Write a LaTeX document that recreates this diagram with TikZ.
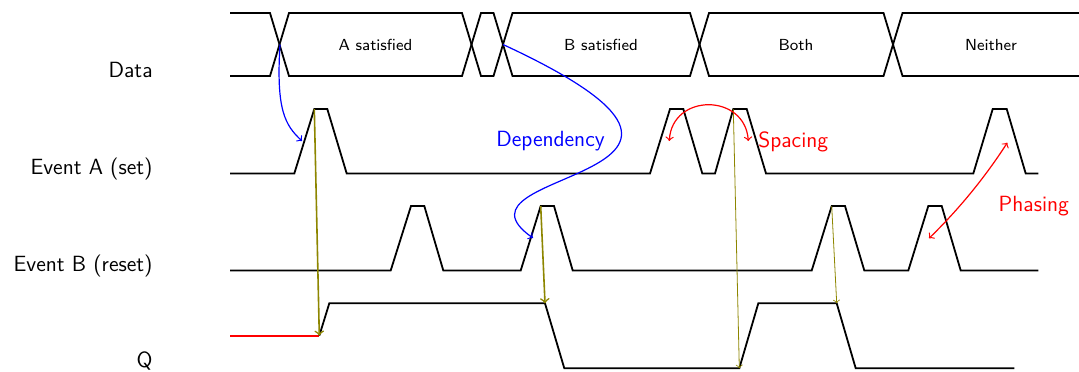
\documentclass[tikz,border=0pt]{standalone}
\usepackage{xcolor}
\begin{document}
\begin{tikzpicture}[x=0.5pt,y=-0.5pt,
  sig/.style={line width=0.9pt,line join=miter},
  lbl/.style={font=\sffamily\fontsize{11}{13}\selectfont,inner sep=0pt,anchor=base east},
  dtxt/.style={font=\sffamily\footnotesize,inner sep=0pt,anchor=base},
  dep/.style={blue,line width=0.6pt},
  rel/.style={red,line width=0.6pt},
  cause/.style={olive,line width=0.8pt,->},
  causethin/.style={olive,line width=0.4pt,->},
  note/.style={font=\sffamily\fontsize{11}{13}\selectfont,inner sep=0pt}]
\useasboundingbox (0,0) rectangle (1079,371);

% labels
\node[lbl] (ldata) at (153,77.3) {Data};
\node[lbl] (lea) at (153,174) {Event A (set)};
\node[lbl] (leb) at (153,271.5) {Event B (reset)};
\node[lbl] (lq) at (153,367) {Q};

% Data bus
\draw[sig] (230,13) -- (270,13) -- (279.5,44.5) -- (270,76) -- (230,76);
\draw[sig] (279.5,44.5) -- (289,13) -- (462,13) -- (471.5,44.5) -- (462,76) -- (289,76) -- cycle;
\draw[sig] (471.5,44.5) -- (481,13) -- (493.5,13) -- (503,44.5) -- (493.5,76) -- (481,76) -- cycle;
\draw[sig] (503,44.5) -- (512.5,13) -- (690,13) -- (699.5,44.5) -- (690,76) -- (512.5,76) -- cycle;
\draw[sig] (699.5,44.5) -- (709,13) -- (883.5,13) -- (893,44.5) -- (883.5,76) -- (709,76) -- cycle;
\draw[sig] (1079,13) -- (902.5,13) -- (893,44.5) -- (902.5,76) -- (1079,76);
\node[dtxt] (ta) at (375.5,50.7) {A satisfied};
\node[dtxt] (tb) at (601,50.7) {B satisfied};
\node[dtxt] (tboth) at (796,50.7) {Both};
\node[dtxt] (tn) at (991,50.7) {Neither};

% Event A
\draw[sig] (230,173.5) -- (294.3,173.5) -- (314.3,109) -- (327.3,109) -- (346.7,173.5)
  -- (650,173.5) -- (670,109) -- (683.3,109) -- (702.3,173.5)
  -- (715,173.5) -- (733.3,109) -- (746.7,109) -- (766,173.5)
  -- (973.3,173.5) -- (992.7,109) -- (1006.7,109) -- (1025.7,173.5) -- (1038.3,173.5);

% Event B
\draw[sig] (230,270.5) -- (390.7,270.5) -- (411,206) -- (424.3,206) -- (443.3,270.5)
  -- (520.7,270.5) -- (540.7,206) -- (554,206) -- (572.7,270.5)
  -- (811.7,270.5) -- (831.7,206) -- (845,206) -- (864.3,270.5)
  -- (908.3,270.5) -- (928.3,206) -- (941.7,206) -- (960.7,270.5) -- (1038.3,270.5);

% Q
\draw[sig,red] (230,335.7) -- (319.3,335.7);
\draw[sig] (319.3,335.7) -- (329.3,303.3) -- (545,303.3) -- (564.3,368.3)
  -- (739.3,368.3) -- (758.3,303.3) -- (836.7,303.3) -- (855.7,368.3) -- (1014.3,368.3);

% named points
\coordinate (x1) at (280,44.5);
\coordinate (a1r) at (302,141);
\coordinate (x3) at (503,44.5);
\coordinate (b2r) at (533,238);
\coordinate (a1t) at (314.3,109);
\coordinate (q1) at (319.3,335.7);
\coordinate (b2t) at (540.7,206);
\coordinate (q2) at (545,303.3);
\coordinate (a3t) at (733.3,109);
\coordinate (q3) at (739.3,368.3);
\coordinate (b3t) at (831.7,206);
\coordinate (q4) at (836.7,303.3);
\coordinate (sl) at (669.3,141);
\coordinate (sr) at (748.3,141);
\coordinate (pt) at (1007.3,142.7);
\coordinate (pb) at (929,238.3);

% causal arrows
\draw[cause] (a1t) -- (q1);
\draw[cause] (b2t) -- (q2);
\draw[causethin] (a3t) -- (q3);
\draw[causethin] (b3t) -- (q4);

% dependencies
\draw[dep,->] (x1) .. controls (276,110) and (285,125) .. (a1r);
\draw[dep,->] (x3) .. controls (800,182) and (433,168) .. (b2r);
\node[note,blue,anchor=base] (tdep) at (550.5,146.7) {Dependency};

% spacing and phasing
\draw[rel,<->] (sl) .. controls (672,93) and (745,93) .. (sr);
\node[note,red,anchor=base west] (tsp) at (758,147) {Spacing};
\draw[rel,<->] (pt) .. controls (984.8,177.6) and (958.7,209.4) .. (pb);
\node[note,red,anchor=base west] (tph) at (998.3,211.7) {Phasing};
\end{tikzpicture}
\end{document}
